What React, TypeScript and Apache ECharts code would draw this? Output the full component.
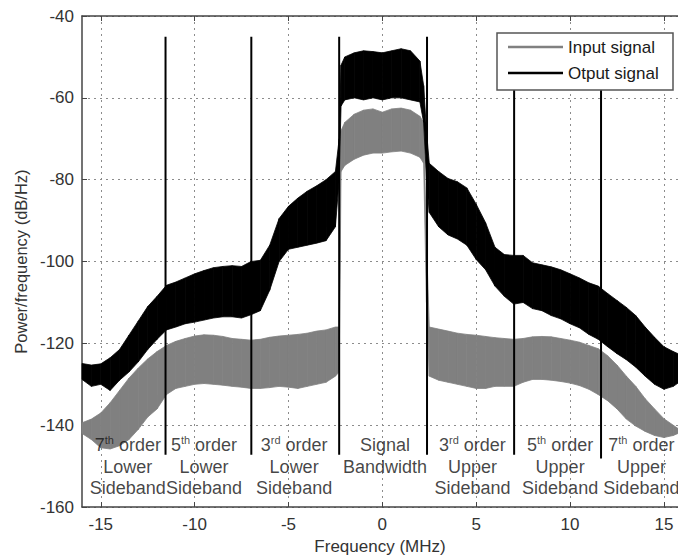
import React, { useEffect, useRef } from "react";
import * as echarts from "echarts";

const freq = [-16, -15.5, -15, -14.5, -14, -13.5, -13, -12.5, -12, -11.5, -11, -10.5, -10, -9.5, -9, -8.5, -8, -7.5, -7, -6.5, -6, -5.5, -5, -4.5, -4, -3.5, -3, -2.5, -2.3, -2.2, -2, -1.5, -1, -0.5, 0, 0.5, 1, 1.5, 2, 2.2, 2.35, 2.5, 3, 3.5, 4, 4.5, 5, 5.5, 6, 6.5, 7, 7.5, 8, 8.5, 9, 9.5, 10, 10.5, 11, 11.5, 12, 12.5, 13, 13.5, 14, 14.5, 15, 15.5, 15.75];

const outputHigh = [-124.9, -125.3, -125, -123.5, -121.5, -118, -114.5, -111, -108.5, -105.8, -105, -104, -103, -102.2, -101.5, -101.2, -101, -101.2, -100, -99.7, -96, -89.5, -86.5, -84.5, -82.8, -81.5, -80, -78, -70, -52, -50, -49, -48.5, -48.7, -49, -48.5, -48, -48.5, -51, -57, -68, -76, -78, -79.7, -80.5, -82, -86, -90.5, -96.5, -98.3, -98.5, -98.5, -100.3, -100.8, -101.3, -102, -103, -104, -105.2, -106, -107.8, -109.5, -111.2, -113.2, -116, -118.5, -120.8, -122, -122.5];

const outputLow = [-128.8, -130.5, -130, -131.5, -129, -127, -124.5, -121.5, -119, -116.7, -116, -115.2, -114.8, -114.3, -113.8, -113.5, -113.5, -113.8, -113, -112, -107, -100, -97, -96.5, -96, -95.5, -94.9, -91.5, -80, -62, -60.5, -60, -60.5, -60, -60.5, -60, -60, -60.5, -61, -66, -80, -88, -91.5, -93.5, -94.5, -96, -99.5, -102, -106, -108.5, -110.4, -110, -111.5, -112, -113.2, -114, -115.2, -116.2, -117.8, -119, -120.8, -122.5, -124, -125.8, -128, -130, -131.2, -130.5, -129.7];

const inputHigh = [-139.4, -138.5, -137, -134.5, -131.5, -128.5, -126, -123.8, -122, -120.5, -119.5, -118.8, -118.2, -117.9, -118, -118.3, -118.8, -119, -119.2, -119, -118.5, -118.2, -118, -117.8, -117.5, -117, -116.7, -116, -116, -68, -66, -64, -63, -62.7, -63.5, -62.7, -62.5, -63, -64.5, -66, -95, -116, -116.5, -117, -117.5, -117.8, -118, -118.3, -118.6, -118.8, -119, -118.8, -118.4, -118.3, -118.4, -118.8, -119.2, -119.7, -120.5, -121.3, -123, -125.3, -128, -130.5, -133.5, -136, -138.4, -140, -140.8];

const inputLow = [-142, -143.5, -145.5, -145.8, -145, -143.5, -141, -138, -136, -132.5, -131, -130.5, -130, -129.8, -130, -130.2, -130.5, -130.7, -131, -131, -130.8, -130.5, -130.7, -131, -130.5, -130, -129.5, -128, -127, -78, -76.5, -75, -74, -73.5, -73.5, -73.2, -73, -73.5, -74.5, -76, -110, -128, -129, -129.5, -130, -130.5, -131, -131, -130.5, -130.5, -130.5, -129.5, -128.8, -128.8, -129, -129.3, -129.7, -130.3, -131.2, -132.5, -134, -136, -138.5, -140.2, -141.5, -142.5, -143, -142.5, -142];

const xTicks = [-15, -10, -5, 0, 5, 10, 15];

const dividerFreqs = [-11.55, -6.98, -2.3, 2.38, 7.02, 11.65];
const dividerTop = [-45.1, -45.1, -45.1, -45.1, -45.1, -45.1];
const dividerBottom = [-147.2, -147.2, -147.2, -147.2, -147.2, -148.1];

const labelFreqs = [-13.56, -9.5, -4.7, 0.14, 4.8, 9.47, 13.8];
const labelOrder = ["7", "5", "3", "", "3", "5", "7"];
const labelSup = ["th", "th", "rd", "", "rd", "th", "th"];
const labelSide = ["Lower", "Lower", "Lower", "", "Upper", "Upper", "Upper"];
const labelY = [-150.1, -150.1, -150.1, -147.55, -150.1, -150.1, -150.1];

const seriesNames = ["Input signal", "Otput signal"];
const seriesColors = ["#808080", "#000000"];

const FONT = "'Liberation Sans', Arial, sans-serif";

export default function App() {
  const ref = useRef<HTMLDivElement>(null);

  useEffect(() => {
    if (!ref.current) return;
    const chart = echarts.init(ref.current, undefined, { renderer: "svg" });

    const band = (name: string, lo: number[], hi: number[], color: string) => ({
      name,
      type: "custom",
      silent: true,
      z: 3,
      encode: { x: 0, y: [1, 2] },
      data: freq.map((f, i) => [f, lo[i], hi[i]]),
      renderItem: (params: any, api: any) => {
        const i = params.dataIndex;
        if (i >= freq.length - 1) return null;
        const a1 = api.coord([api.value(0), api.value(1)]);
        const b1 = api.coord([api.value(0), api.value(2)]);
        const a2 = api.coord([freq[i + 1], lo[i + 1]]);
        const b2 = api.coord([freq[i + 1], hi[i + 1]]);
        return {
          type: "polygon",
          shape: { points: [a1, b1, b2, a2] },
          style: { fill: color, stroke: color, lineWidth: 0.8 },
        };
      },
    });

    const dividers = dividerFreqs.map((f, i) => ({
      type: "line",
      symbol: "none",
      silent: true,
      lineStyle: { color: "#000", width: 2 },
      data: [
        [f, dividerTop[i]],
        [f, dividerBottom[i]],
      ],
      z: 4,
    }));

    const labels = {
      type: "scatter",
      symbolSize: 0.1,
      silent: true,
      itemStyle: { color: "rgba(0,0,0,0)" },
      z: 5,
      data: labelFreqs.map((f, i) => [f, labelY[i]]),
      label: {
        show: true,
        position: "inside",
        align: "center",
        verticalAlign: "middle",
        formatter: (p: any) => {
          const i = p.dataIndex;
          if (!labelOrder[i]) return "{a|Signal}\n{a|Bandwidth}";
          return `{a|${labelOrder[i]}}{s|${labelSup[i]}}{a| order}\n{a|${labelSide[i]}}\n{a|Sideband}`;
        },
        rich: {
          a: { fontSize: 18, fontFamily: FONT, color: "#141414", lineHeight: 21.5 },
          s: { fontSize: 11, fontFamily: FONT, color: "#141414", lineHeight: 12, verticalAlign: "top" },
        },
      },
    };

    const gridLine = { show: true, lineStyle: { color: "#8c8c8c", width: 1, type: [2, 4] } };
    const axisLine = { show: true, onZero: false, lineStyle: { color: "#444", width: 1.5 } };

    chart.setOption({
      animation: false,
      grid: { left: 82, top: 16, right: 0, bottom: 48, containLabel: false },
      xAxis: [
        {
          type: "value",
          min: -16,
          max: 15.75,
          name: "Frequency (MHz)",
          nameLocation: "middle",
          nameGap: 28,
          nameTextStyle: { fontSize: 17, fontFamily: FONT, color: "#333" },
          axisLine,
          axisTick: { show: true, inside: true, length: 5, customValues: xTicks, lineStyle: { color: "#444" } },
          axisLabel: { customValues: xTicks, fontSize: 17, fontFamily: FONT, color: "#333", margin: 9 },
          splitLine: gridLine,
        },
        {
          type: "value",
          position: "top",
          min: -16,
          max: 15.75,
          axisLine,
          axisTick: { show: true, inside: true, length: 5, customValues: xTicks, lineStyle: { color: "#444" } },
          axisLabel: { show: false },
          splitLine: { show: false },
        },
      ],
      yAxis: {
        type: "value",
        min: -160,
        max: -40,
        interval: 20,
        name: "Power/frequency (dB/Hz)",
        nameLocation: "middle",
        nameGap: 50,
        nameRotate: 90,
        nameTextStyle: { fontSize: 16.5, fontFamily: FONT, color: "#333" },
        axisLine,
        axisTick: { show: true, inside: true, length: 5, lineStyle: { color: "#444" } },
        axisLabel: { fontSize: 17, fontFamily: FONT, color: "#333", margin: 8 },
        splitLine: gridLine,
      },
      series: [
        band(seriesNames[0], inputLow, inputHigh, seriesColors[0]),
        band(seriesNames[1], outputLow, outputHigh, seriesColors[1]),
        ...dividers,
        labels,
      ],
      graphic: [
        {
          type: "rect",
          z: 100,
          shape: { x: 497, y: 33, width: 176, height: 57 },
          style: { fill: "#fff", stroke: "#555", lineWidth: 1.5 },
        },
        {
          type: "line",
          z: 101,
          shape: { x1: 508, y1: 47, x2: 563, y2: 47 },
          style: { stroke: seriesColors[0], lineWidth: 2.5 },
        },
        {
          type: "line",
          z: 101,
          shape: { x1: 508, y1: 73, x2: 563, y2: 73 },
          style: { stroke: seriesColors[1], lineWidth: 2.5 },
        },
        {
          type: "text",
          z: 101,
          x: 568,
          y: 47,
          style: { text: seriesNames[0], fontSize: 17, fontFamily: FONT, fill: "#1a1a1a", verticalAlign: "middle" },
        },
        {
          type: "text",
          z: 101,
          x: 568,
          y: 73,
          style: { text: seriesNames[1], fontSize: 17, fontFamily: FONT, fill: "#1a1a1a", verticalAlign: "middle" },
        },
      ],
    });

    return () => chart.dispose();
  }, []);

  return (
    <div
      ref={ref}
      style={{ position: "absolute", left: 0, top: 0, width: 678, height: 560, background: "#fff" }}
    />
  );
}
